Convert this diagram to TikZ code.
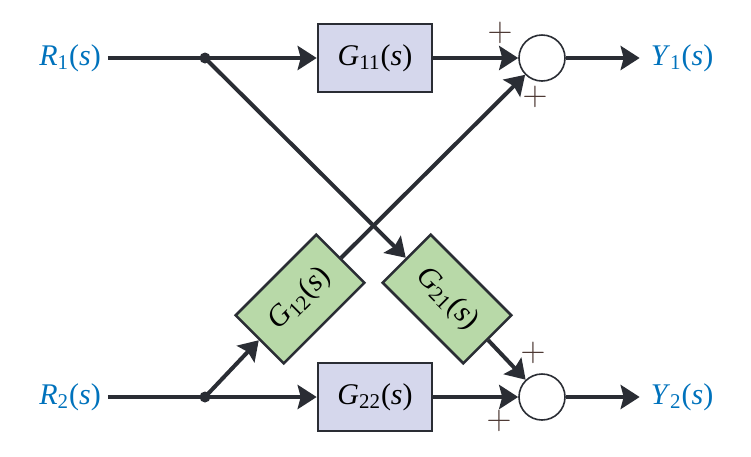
\documentclass[tikz,border=0pt]{standalone}
\usepackage{amsmath}
\usepackage{fontspec}
\usepackage{tikz}
\usepackage{xcolor}
\usetikzlibrary{arrows.meta, positioning, calc}
\setmainfont{Liberation Serif}
\definecolor{cLine}{RGB}{42,45,52}
\definecolor{cBlue}{RGB}{0,114,188}
\definecolor{cLav}{RGB}{213,215,236}
\definecolor{cGreen}{RGB}{184,217,168}
\definecolor{cPlus}{RGB}{75,55,50}
\newcommand{\tfs}[2]{\textit{#1}\ensuremath{_{\text{\normalfont #2}}}(\textit{s})}
\tikzset{
	blk/.style ={rectangle, draw=cLine, line width=1.3pt, minimum width=57pt, minimum height=34pt, inner sep=0pt, fill=cLav},
	gblk/.style={blk, fill=cGreen},
	sumj/.style={circle, draw=cLine, line width=0.8pt, minimum size=23pt, inner sep=0pt, fill=white},
	dotj/.style={circle, fill=cLine, minimum size=5.5pt, inner sep=0pt},
	sig/.style ={-{Stealth[length=9.5pt, width=12pt, inset=1.5pt]}, line width=2pt, draw=cLine},
	wire/.style={line width=2pt, draw=cLine},
	lab/.style ={text=cBlue, font=\fontsize{15}{17}\selectfont},
	pm/.style  ={text=cPlus, font=\fontsize{16}{18}\selectfont, inner sep=0pt},
}
\begin{document}
\begin{tikzpicture}[x=0.5pt, y=-0.5pt, font=\fontsize{15}{17}\selectfont]
	\useasboundingbox (0,0) rectangle (751,456);
	% inputs and branch points
	\node[lab] (r1) at (70,58) {\tfs{R}{1}};
	\node[lab] (r2) at (70,397) {\tfs{R}{2}};
	\node[dotj] (j1) at (205,58) {};
	\node[dotj] (j2) at (205,397) {};
	% blocks
	\node[blk] (g11) at (375,58) {\tfs{G}{11}};
	\node[blk] (g22) at (375,397) {\tfs{G}{22}};
	\node[gblk, rotate=45] (g12) at (300,299) {\tfs{G}{12}};
	\node[gblk, rotate=-45] (g21) at (447,299) {\tfs{G}{21}};
	% summing junctions and outputs
	\node[sumj] (s1) at (542,58) {};
	\node[sumj] (s2) at (542,397) {};
	\node[lab] (y1) at (682,58) {\tfs{Y}{1}};
	\node[lab] (y2) at (682,397) {\tfs{Y}{2}};
	\node[pm] (p1) at (500,33) {$+$};
	\node[pm] (p2) at (535,97) {$+$};
	\node[pm] (p3) at (533,353) {$+$};
	\node[pm] (p4) at (499,421) {$+$};
	% signals
	\draw[wire] (r1.east) -- (j1.center);
	\draw[wire] (r2.east) -- (j2.center);
	\draw[sig] (j1.center) -- (g11);
	\draw[sig] (j2.center) -- (g22);
	\draw[sig] (g11) -- (s1);
	\draw[sig] (g22) -- (s2);
	\draw[sig] (j1.center) -- (g21.west);
	\draw[sig] (g21.east) -- (s2);
	\draw[sig] (j2.center) -- (g12.west);
	\draw[sig] (g12.east) -- (s1);
	\draw[sig, shorten >=2pt] (s1) -- (y1);
	\draw[sig, shorten >=2pt] (s2) -- (y2);
\end{tikzpicture}
\end{document}
